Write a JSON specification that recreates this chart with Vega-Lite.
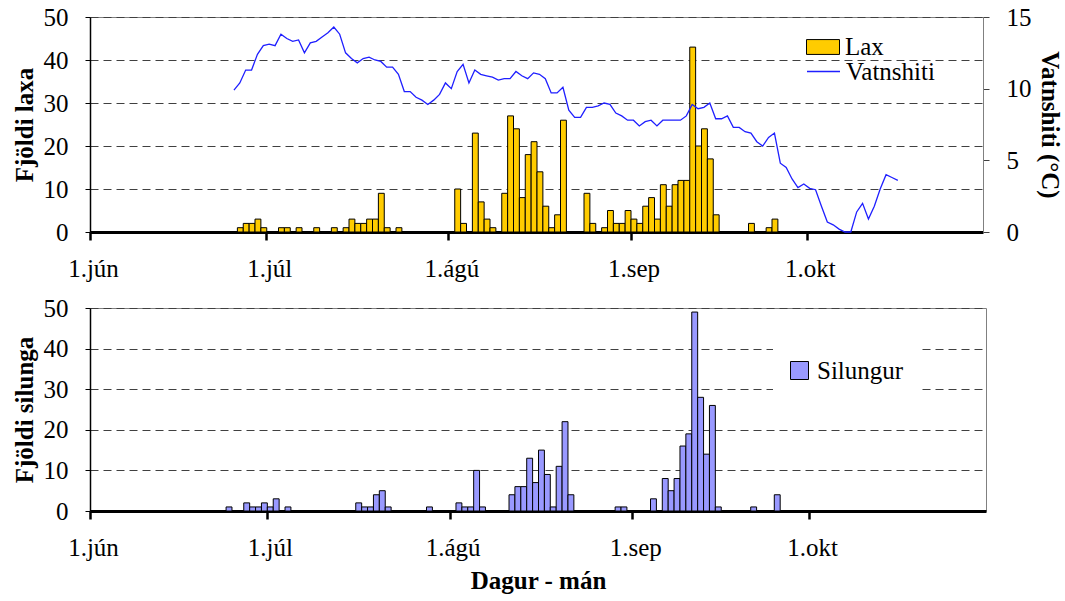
{
  "$schema": "https://vega.github.io/schema/vega-lite/v6.json",
  "background": "white",
  "padding": {"left": 11, "top": 4, "right": 5, "bottom": 2},
  "config": {
    "font": "Liberation Serif",
    "view": {"stroke": "#808080", "strokeWidth": 1},
    "axis": {"labelFont": "Liberation Serif", "titleFont": "Liberation Serif", "labelColor": "black", "titleColor": "black", "labelFontSize": 25, "titleFontSize": 25, "titleFontWeight": "bold"},
    "axisX": {"labelFont": "Liberation Serif", "domainColor": "black", "domainWidth": 3, "tickColor": "black", "tickWidth": 2.5, "tickSize": 8, "labelPadding": 16, "labelFlush": false, "labelOffset": 3, "grid": false},
    "axisY": {"labelFont": "Liberation Serif", "domainColor": "black", "domainWidth": 1.5, "tickColor": "black", "tickSize": 5, "labelPadding": 17, "gridDash": [8, 5], "gridColor": "#404040", "gridWidth": 1, "titlePadding": 6},
    "legend": {"labelFont": "Liberation Serif", "labelFontSize": 25, "labelColor": "black", "title": null}
  },
  "datasets": {
    "lax": [
      {"date": "2006-06-26", "n": 1}, {"date": "2006-06-27", "n": 2}, {"date": "2006-06-28", "n": 2}, {"date": "2006-06-29", "n": 3}, {"date": "2006-06-30", "n": 1},
      {"date": "2006-07-03", "n": 1}, {"date": "2006-07-04", "n": 1}, {"date": "2006-07-06", "n": 1}, {"date": "2006-07-09", "n": 1}, {"date": "2006-07-12", "n": 1},
      {"date": "2006-07-14", "n": 1}, {"date": "2006-07-15", "n": 3}, {"date": "2006-07-16", "n": 2}, {"date": "2006-07-17", "n": 2}, {"date": "2006-07-18", "n": 3},
      {"date": "2006-07-19", "n": 3}, {"date": "2006-07-20", "n": 9}, {"date": "2006-07-21", "n": 1}, {"date": "2006-07-23", "n": 1},
      {"date": "2006-08-02", "n": 10}, {"date": "2006-08-03", "n": 2}, {"date": "2006-08-05", "n": 23}, {"date": "2006-08-06", "n": 7}, {"date": "2006-08-07", "n": 3},
      {"date": "2006-08-08", "n": 1}, {"date": "2006-08-10", "n": 9}, {"date": "2006-08-11", "n": 27}, {"date": "2006-08-12", "n": 24}, {"date": "2006-08-13", "n": 8},
      {"date": "2006-08-14", "n": 18}, {"date": "2006-08-15", "n": 21}, {"date": "2006-08-16", "n": 14}, {"date": "2006-08-17", "n": 6}, {"date": "2006-08-18", "n": 1},
      {"date": "2006-08-19", "n": 4}, {"date": "2006-08-20", "n": 26}, {"date": "2006-08-24", "n": 9}, {"date": "2006-08-25", "n": 2}, {"date": "2006-08-27", "n": 1},
      {"date": "2006-08-28", "n": 5}, {"date": "2006-08-29", "n": 2}, {"date": "2006-08-30", "n": 2}, {"date": "2006-08-31", "n": 5}, {"date": "2006-09-01", "n": 3},
      {"date": "2006-09-02", "n": 2}, {"date": "2006-09-03", "n": 6}, {"date": "2006-09-04", "n": 8}, {"date": "2006-09-05", "n": 3}, {"date": "2006-09-06", "n": 11},
      {"date": "2006-09-07", "n": 6}, {"date": "2006-09-08", "n": 11}, {"date": "2006-09-09", "n": 12}, {"date": "2006-09-10", "n": 12}, {"date": "2006-09-11", "n": 43},
      {"date": "2006-09-12", "n": 20}, {"date": "2006-09-13", "n": 24}, {"date": "2006-09-14", "n": 17}, {"date": "2006-09-15", "n": 4}, {"date": "2006-09-21", "n": 2},
      {"date": "2006-09-24", "n": 1}, {"date": "2006-09-25", "n": 3}
    ],
    "temp": [
      {"date": "2006-06-25", "t": 9.9}, {"date": "2006-06-26", "t": 10.4}, {"date": "2006-06-27", "t": 11.3}, {"date": "2006-06-28", "t": 11.3}, {"date": "2006-06-29", "t": 12.4},
      {"date": "2006-06-30", "t": 13.0}, {"date": "2006-07-01", "t": 13.1}, {"date": "2006-07-02", "t": 13.0}, {"date": "2006-07-03", "t": 13.8}, {"date": "2006-07-04", "t": 13.5},
      {"date": "2006-07-05", "t": 13.3}, {"date": "2006-07-06", "t": 13.4}, {"date": "2006-07-07", "t": 12.5}, {"date": "2006-07-08", "t": 13.2}, {"date": "2006-07-09", "t": 13.3},
      {"date": "2006-07-10", "t": 13.6}, {"date": "2006-07-11", "t": 13.9}, {"date": "2006-07-12", "t": 14.3}, {"date": "2006-07-13", "t": 13.8}, {"date": "2006-07-14", "t": 12.5},
      {"date": "2006-07-15", "t": 12.1}, {"date": "2006-07-16", "t": 11.8}, {"date": "2006-07-17", "t": 12.1}, {"date": "2006-07-18", "t": 12.2}, {"date": "2006-07-19", "t": 12.0},
      {"date": "2006-07-20", "t": 11.9}, {"date": "2006-07-21", "t": 11.5}, {"date": "2006-07-22", "t": 11.5}, {"date": "2006-07-23", "t": 11.0}, {"date": "2006-07-24", "t": 9.8},
      {"date": "2006-07-25", "t": 9.8}, {"date": "2006-07-26", "t": 9.4}, {"date": "2006-07-27", "t": 9.2}, {"date": "2006-07-28", "t": 8.9}, {"date": "2006-07-29", "t": 9.2},
      {"date": "2006-07-30", "t": 9.6}, {"date": "2006-07-31", "t": 10.4}, {"date": "2006-08-01", "t": 10.0}, {"date": "2006-08-02", "t": 11.2}, {"date": "2006-08-03", "t": 11.7},
      {"date": "2006-08-04", "t": 10.4}, {"date": "2006-08-05", "t": 11.3}, {"date": "2006-08-06", "t": 11.0}, {"date": "2006-08-07", "t": 10.9}, {"date": "2006-08-08", "t": 10.8},
      {"date": "2006-08-09", "t": 10.6}, {"date": "2006-08-10", "t": 10.7}, {"date": "2006-08-11", "t": 10.7}, {"date": "2006-08-12", "t": 11.2}, {"date": "2006-08-13", "t": 10.9},
      {"date": "2006-08-14", "t": 10.7}, {"date": "2006-08-15", "t": 11.1}, {"date": "2006-08-16", "t": 11.0}, {"date": "2006-08-17", "t": 10.7}, {"date": "2006-08-18", "t": 9.7},
      {"date": "2006-08-19", "t": 9.7}, {"date": "2006-08-20", "t": 10.1}, {"date": "2006-08-21", "t": 8.5}, {"date": "2006-08-22", "t": 8.0}, {"date": "2006-08-23", "t": 8.0},
      {"date": "2006-08-24", "t": 8.7}, {"date": "2006-08-25", "t": 8.7}, {"date": "2006-08-26", "t": 8.8}, {"date": "2006-08-27", "t": 9.0}, {"date": "2006-08-28", "t": 8.9},
      {"date": "2006-08-29", "t": 8.3}, {"date": "2006-08-30", "t": 8.1}, {"date": "2006-08-31", "t": 7.8}, {"date": "2006-09-01", "t": 7.8}, {"date": "2006-09-02", "t": 7.4},
      {"date": "2006-09-03", "t": 7.7}, {"date": "2006-09-04", "t": 7.8}, {"date": "2006-09-05", "t": 7.4}, {"date": "2006-09-06", "t": 7.8}, {"date": "2006-09-07", "t": 7.8},
      {"date": "2006-09-08", "t": 7.8}, {"date": "2006-09-09", "t": 7.8}, {"date": "2006-09-10", "t": 8.1}, {"date": "2006-09-11", "t": 8.9}, {"date": "2006-09-12", "t": 8.6},
      {"date": "2006-09-13", "t": 8.7}, {"date": "2006-09-14", "t": 9.0}, {"date": "2006-09-15", "t": 7.9}, {"date": "2006-09-16", "t": 7.9}, {"date": "2006-09-17", "t": 8.1},
      {"date": "2006-09-18", "t": 7.3}, {"date": "2006-09-19", "t": 7.3}, {"date": "2006-09-20", "t": 7.0}, {"date": "2006-09-21", "t": 6.9}, {"date": "2006-09-22", "t": 6.3},
      {"date": "2006-09-23", "t": 6.0}, {"date": "2006-09-24", "t": 6.6}, {"date": "2006-09-25", "t": 6.9}, {"date": "2006-09-26", "t": 4.8}, {"date": "2006-09-27", "t": 4.5},
      {"date": "2006-09-28", "t": 3.7}, {"date": "2006-09-29", "t": 3.1}, {"date": "2006-09-30", "t": 3.35}, {"date": "2006-10-01", "t": 3.05}, {"date": "2006-10-02", "t": 2.95},
      {"date": "2006-10-03", "t": 1.8}, {"date": "2006-10-04", "t": 0.7}, {"date": "2006-10-05", "t": 0.5}, {"date": "2006-10-06", "t": 0.2}, {"date": "2006-10-07", "t": 0.0},
      {"date": "2006-10-08", "t": 0.0}, {"date": "2006-10-09", "t": 1.4}, {"date": "2006-10-10", "t": 2.0}, {"date": "2006-10-11", "t": 0.9}, {"date": "2006-10-12", "t": 1.8},
      {"date": "2006-10-13", "t": 3.0}, {"date": "2006-10-14", "t": 4.0}, {"date": "2006-10-15", "t": 3.8}, {"date": "2006-10-16", "t": 3.6}
    ],
    "sil": [
      {"date": "2006-06-24", "n": 1}, {"date": "2006-06-27", "n": 2}, {"date": "2006-06-28", "n": 1}, {"date": "2006-06-29", "n": 1}, {"date": "2006-06-30", "n": 2},
      {"date": "2006-07-01", "n": 1}, {"date": "2006-07-02", "n": 3}, {"date": "2006-07-04", "n": 1}, {"date": "2006-07-16", "n": 2}, {"date": "2006-07-17", "n": 1},
      {"date": "2006-07-18", "n": 1}, {"date": "2006-07-19", "n": 4}, {"date": "2006-07-20", "n": 5}, {"date": "2006-07-21", "n": 1}, {"date": "2006-07-28", "n": 1},
      {"date": "2006-08-02", "n": 2}, {"date": "2006-08-03", "n": 1}, {"date": "2006-08-04", "n": 1}, {"date": "2006-08-05", "n": 10}, {"date": "2006-08-06", "n": 1},
      {"date": "2006-08-11", "n": 4}, {"date": "2006-08-12", "n": 6}, {"date": "2006-08-13", "n": 6}, {"date": "2006-08-14", "n": 13}, {"date": "2006-08-15", "n": 7},
      {"date": "2006-08-16", "n": 15}, {"date": "2006-08-17", "n": 9}, {"date": "2006-08-18", "n": 1}, {"date": "2006-08-19", "n": 11}, {"date": "2006-08-20", "n": 22},
      {"date": "2006-08-21", "n": 4}, {"date": "2006-08-29", "n": 1}, {"date": "2006-08-30", "n": 1}, {"date": "2006-09-04", "n": 3}, {"date": "2006-09-06", "n": 8},
      {"date": "2006-09-07", "n": 5}, {"date": "2006-09-08", "n": 8}, {"date": "2006-09-09", "n": 16}, {"date": "2006-09-10", "n": 19}, {"date": "2006-09-11", "n": 49},
      {"date": "2006-09-12", "n": 28}, {"date": "2006-09-13", "n": 14}, {"date": "2006-09-14", "n": 26}, {"date": "2006-09-15", "n": 1}, {"date": "2006-09-21", "n": 1},
      {"date": "2006-09-25", "n": 4}
    ]
  },
  "vconcat": [
    {
      "width": 893,
      "height": 215,
      "layer": [
        {
          "data": {"name": "lax"},
          "mark": {"type": "bar", "stroke": "black", "strokeWidth": 1, "binSpacing": 0},
          "encoding": {
            "x": {
              "field": "date", "timeUnit": "utcyearmonthdate", "type": "temporal",
              "scale": {"type": "utc", "domain": [{"year": 2006, "month": 6, "date": 1, "utc": true}, {"year": 2006, "month": 10, "date": 31, "utc": true}]},
              "axis": {
                "title": null,
                "values": [{"year": 2006, "month": 6, "date": 1, "utc": true}, {"year": 2006, "month": 7, "date": 1, "utc": true}, {"year": 2006, "month": 8, "date": 1, "utc": true}, {"year": 2006, "month": 9, "date": 1, "utc": true}, {"year": 2006, "month": 10, "date": 1, "utc": true}],
                "labelExpr": "'1.' + ['jan','feb','mar','apr','maí','jún','júl','ágú','sep','okt','nóv','des'][utcmonth(datum.value)]"
              }
            },
            "y": {
              "field": "n", "type": "quantitative",
              "scale": {"domain": [0, 50]},
              "axis": {"title": "Fjöldi laxa", "values": [0, 10, 20, 30, 40, 50]}
            },
            "fill": {
              "datum": "Lax", "type": "nominal",
              "scale": {"range": ["#FFCC00"]},
              "legend": {"orient": "none", "legendX": 716, "legendY": 13, "symbolType": "M-1,-0.45H1V0.45H-1Z", "symbolSize": 1089, "symbolStrokeColor": "black", "symbolStrokeWidth": 1, "symbolOpacity": 1, "labelOffset": 5, "padding": 0}
            }
          }
        },
        {
          "data": {"name": "temp"},
          "mark": {"type": "line", "strokeWidth": 1.3},
          "encoding": {
            "x": {"field": "date", "timeUnit": "utcyearmonthdate", "type": "temporal", "bandPosition": 0.5},
            "y": {
              "field": "t", "type": "quantitative",
              "scale": {"domain": [0, 15]},
              "axis": {"orient": "right", "title": "Vatnshiti (°C)", "titleAngle": 90, "titlePadding": 5, "values": [0, 5, 10, 15], "grid": false, "domainColor": "#808080", "domainWidth": 1, "tickColor": "#404040", "tickSize": 6, "labelPadding": 17}
            },
            "stroke": {
              "datum": "Vatnshiti", "type": "nominal",
              "scale": {"range": ["#1f1fff"]},
              "legend": {"orient": "none", "legendX": 716, "legendY": 37, "symbolType": "stroke", "symbolSize": 1089, "symbolStrokeWidth": 1.3, "labelOffset": 5, "padding": 0}
            }
          }
        }
      ],
      "resolve": {"scale": {"y": "independent", "fill": "independent", "stroke": "independent"}}
    },
    {
      "width": 896,
      "height": 203,
      "data": {"name": "sil"},
      "mark": {"type": "bar", "stroke": "black", "strokeWidth": 1, "binSpacing": 0},
      "encoding": {
        "x": {
          "field": "date", "timeUnit": "utcyearmonthdate", "type": "temporal",
          "scale": {"type": "utc", "domain": [{"year": 2006, "month": 6, "date": 1, "utc": true}, {"year": 2006, "month": 10, "date": 31, "utc": true}]},
          "axis": {
            "title": "Dagur - mán",
            "titlePadding": 8,
            "values": [{"year": 2006, "month": 6, "date": 1, "utc": true}, {"year": 2006, "month": 7, "date": 1, "utc": true}, {"year": 2006, "month": 8, "date": 1, "utc": true}, {"year": 2006, "month": 9, "date": 1, "utc": true}, {"year": 2006, "month": 10, "date": 1, "utc": true}],
            "labelExpr": "'1.' + ['jan','feb','mar','apr','maí','jún','júl','ágú','sep','okt','nóv','des'][utcmonth(datum.value)]"
          }
        },
        "y": {
          "field": "n", "type": "quantitative",
          "scale": {"domain": [0, 50]},
          "axis": {"title": "Fjöldi silunga", "values": [0, 10, 20, 30, 40, 50]}
        },
        "fill": {
          "datum": "Silungur", "type": "nominal",
          "scale": {"range": ["#9999FF"]},
          "legend": {"orient": "none", "legendX": 683, "legendY": 327, "symbolType": "square", "symbolSize": 324, "symbolStrokeColor": "black", "symbolStrokeWidth": 1, "symbolOpacity": 1, "labelOffset": 5, "padding": 14, "fillColor": "white"}
        }
      }
    }
  ],
  "spacing": 13
}
